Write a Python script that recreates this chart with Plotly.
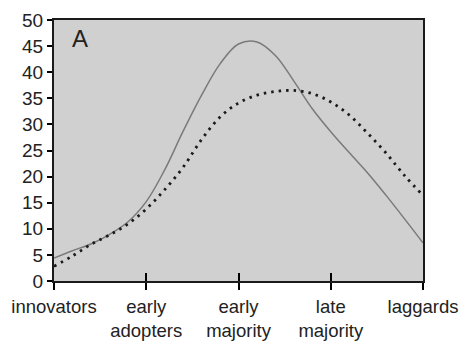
import plotly.graph_objects as go

# Data
categories = ["innovators", "early<br>adopters", "early<br>majority", "late<br>majority", "laggards"]
tick_pos = [0, 1, 2, 3, 4]

curve_x = [0, 0.2, 0.4, 0.6, 0.8, 1.0, 1.2, 1.4, 1.6, 1.8, 2.0, 2.2, 2.4, 2.6, 2.8, 3.0, 3.2, 3.4, 3.6, 3.8, 4.0]
solid_y = [4.4, 5.8, 7.1, 8.9, 11.3, 15.2, 21.3, 28.7, 35.6, 41.6, 45.4, 45.8, 43.2, 38.3, 33.0, 28.6, 24.6, 20.7, 16.4, 11.9, 7.3]
dotted_y = [2.8, 4.8, 7.0, 8.8, 10.9, 13.8, 17.5, 21.8, 27.1, 31.4, 34.1, 35.6, 36.3, 36.5, 35.9, 34.3, 31.8, 28.3, 24.5, 20.2, 16.4]

y_ticks = [0, 5, 10, 15, 20, 25, 30, 35, 40, 45, 50]

font = "Liberation Sans, Arial, sans-serif"

fig = go.Figure()
fig.add_trace(go.Scatter(x=curve_x, y=solid_y, mode="lines", line=dict(color="#7a7a7a", width=1.5, shape="spline", smoothing=1.0),
                         showlegend=False, hoverinfo="skip"))
fig.add_trace(go.Scatter(x=curve_x, y=dotted_y, mode="lines", line=dict(color="#1a1a1a", width=2.8, shape="spline", smoothing=1.0, dash="2.5px,5px"),
                         showlegend=False, hoverinfo="skip"))
# invisible trace on overlay axis to show inward tick marks
fig.add_trace(go.Scatter(x=[0, 4], y=[0, 0], xaxis="x2", mode="lines", line=dict(width=0), showlegend=False, hoverinfo="skip"))

fig.update_layout(
    width=466, height=344,
    margin=dict(l=54, r=43, t=20, b=63),
    paper_bgcolor="white",
    plot_bgcolor="#d0d0d0",
    font=dict(family=font, size=17, color="#222222"),
    xaxis=dict(range=[0, 4], tickvals=tick_pos, ticktext=categories, ticks="outside", ticklen=7, tickwidth=1.5,
               tickcolor="black", showgrid=False, zeroline=False, showline=True, linecolor="#1a1a1a", linewidth=2,
               mirror=True, tickfont=dict(size=18.5), ticklabelstandoff=1, automargin=False),
    xaxis2=dict(range=[0, 4], overlaying="x", tickvals=tick_pos, ticktext=["", "", "", "", ""], ticks="inside",
                ticklen=8, tickwidth=1.5, tickcolor="black", showgrid=False, zeroline=False, showline=False,
                automargin=False),
    yaxis=dict(range=[0, 50], tickvals=y_ticks, ticks="outside", ticklen=5, tickwidth=1.5, tickcolor="black",
               showgrid=False, zeroline=False, showline=True, linecolor="#1a1a1a", linewidth=2, mirror=True,
               tickfont=dict(size=19), automargin=False),
    annotations=[dict(text="A", x=0.17, y=46.5, xref="x", yref="y", showarrow=False, xanchor="left", yanchor="middle",
                      font=dict(size=24, family=font, color="#222222"))],
)

fig.write_html("out.html")
